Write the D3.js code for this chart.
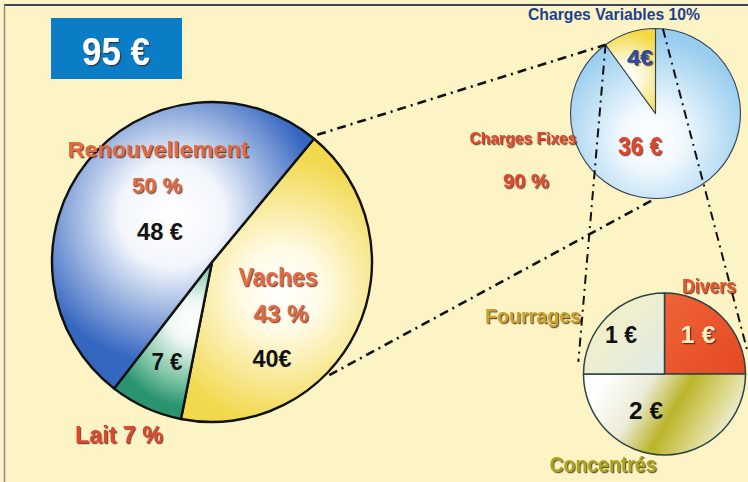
<!DOCTYPE html>
<html><head><meta charset="utf-8">
<script src="https://cdn.jsdelivr.net/npm/d3@7"></script>
<style>html,body{margin:0;padding:0;background:#fcf4c4;}svg{display:block;}</style>
</head><body>
<script>
// ---- data ----
const totalLabel = "95 €";
const mainCategories = ["Vaches", "Lait", "Renouvellement"];
const mainValues = [40, 7, 48];
const mainPercents = ["43 %", "7 %", "50 %"];
const mainValueLabels = ["40€", "7 €", "48 €"];
const chargeCategories = ["Charges Fixes", "Charges Variables"];
const chargeValues = [36, 4];
const chargePercents = ["90 %", "10%"];
const chargeValueLabels = ["36 €", "4€"];
const varCategories = ["Divers", "Concentrés", "Fourrages"];
const varValues = [1, 2, 1];
const varValueLabels = ["1 €", "2 €", "1 €"];

const W = 748, H = 482;
const svg = d3.select("body").append("svg").attr("width", W).attr("height", H);
const defs = svg.append("defs");
const FONT = "'Liberation Sans', Arial, sans-serif";

svg.append("rect").attr("width", W).attr("height", H).attr("fill", "#fcf4c4");
svg.append("line").attr("x1", 4).attr("x2", W).attr("y1", 5).attr("y2", 5).attr("stroke", "#3e4662").attr("stroke-width", 2);
svg.append("line").attr("x1", 4.5).attr("x2", 4.5).attr("y1", 5).attr("y2", H).attr("stroke", "#8a8a8a").attr("stroke-width", 1.5);

// shadow filter
const f = defs.append("filter").attr("id", "sh").attr("x", "-20%").attr("y", "-20%").attr("width", "140%").attr("height", "140%");
f.append("feDropShadow").attr("dx", 1.2).attr("dy", 1.2).attr("stdDeviation", 0.6)
  .attr("flood-color", "#3a1a08").attr("flood-opacity", 0.75);

// geometry
const main = {cx: 212, cy: 262, r: 160};
const chg = {cx: 655.5, cy: 113.5, r: 85};
const vr = {cx: 664.5, cy: 374, r: 81};
const polar = (c, deg, r) => [c.cx + r * Math.sin(deg * Math.PI / 180), c.cy - r * Math.cos(deg * Math.PI / 180)];

// gradients (page coordinates converted to each pie's local coordinates)
function radial(id, c, cx, cy, r, stops) {
  const g = defs.append("radialGradient").attr("id", id).attr("gradientUnits", "userSpaceOnUse")
    .attr("cx", cx - c.cx).attr("cy", cy - c.cy).attr("r", r);
  stops.forEach(s => g.append("stop").attr("offset", s[0]).attr("stop-color", s[1]));
}
function linear(id, c, x1, y1, x2, y2, stops) {
  const g = defs.append("linearGradient").attr("id", id).attr("gradientUnits", "userSpaceOnUse")
    .attr("x1", x1 - c.cx).attr("y1", y1 - c.cy).attr("x2", x2 - c.cx).attr("y2", y2 - c.cy);
  stops.forEach(s => g.append("stop").attr("offset", s[0]).attr("stop-color", s[1]));
}

radial("gVaches", main, 282, 290, 135, [[0, "#ffffff"], [0.3, "#fffbe6"], [1, "#f2d84c"]]);
radial("gLait", main, 192, 322, 85, [[0, "#ffffff"], [0.25, "#f0f8f4"], [0.7, "#7cc4a4"], [1, "#2a9470"]]);
radial("gRenouv", main, 172, 215, 150, [[0, "#ffffff"], [0.35, "#f2f6fc"], [1, "#3566c0"]]);
radial("gFixes", chg, 652, 138, 100, [[0, "#ffffff"], [0.3, "#f2f9fd"], [1, "#98cdee"]]);
radial("gVar", chg, 625, 78, 48, [[0, "#ffffff"], [0.35, "#fdf8dc"], [1, "#f3d83e"]]);
linear("gDivers", vr, 665, 300, 745, 370, [[0, "#ee6236"], [1, "#e54a25"]]);
linear("gConc", vr, 600, 385, 720, 455, [[0, "#ffffff"], [0.3, "#ececd8"], [0.55, "#bbb42a"], [0.75, "#d6d276"], [1, "#f2f2e2"]]);
linear("gFour", vr, 590, 300, 665, 374, [[0, "#f7f1c0"], [1, "#dfeae6"]]);

const mainFills = ["url(#gVaches)", "url(#gLait)", "url(#gRenouv)"];
const chargeFills = ["url(#gFixes)", "url(#gVar)"];
const varFills = ["url(#gDivers)", "url(#gConc)", "url(#gFour)"];

function drawPie(c, values, fills, start, stroke, sw) {
  const pie = d3.pie().sort(null).startAngle(start).endAngle(start + 2 * Math.PI);
  const arc = d3.arc().innerRadius(0).outerRadius(c.r);
  const g = svg.append("g").attr("transform", `translate(${c.cx},${c.cy})`);
  g.selectAll("path").data(pie(values)).join("path")
    .attr("d", arc).attr("fill", (d, i) => fills[i])
    .attr("stroke", stroke).attr("stroke-width", sw).attr("stroke-linejoin", "round");
  return g;
}

drawPie(main, mainValues, mainFills, 39.6 * Math.PI / 180, "#111", 2.4);
drawPie(chg, chargeValues, chargeFills, 0, "#34405a", 1.1);
drawPie(vr, varValues, varFills, 0, "#2c4444", 1.5);

// dash-dot connectors
const conns = [
  [polar(main, 39.6, 165), polar(chg, 324, 85), 2.6],
  [polar(main, 134, 163), polar(chg, 180, 85), 2.6],
  [polar(chg, 324, 85), polar(vr, -82, 87), 2],
  [polar(chg, 5, 85), polar(vr, 74, 86), 2]
];
svg.selectAll("line.conn").data(conns).join("line").attr("class", "conn")
  .attr("x1", d => d[0][0]).attr("y1", d => d[0][1])
  .attr("x2", d => d[1][0]).attr("y2", d => d[1][1])
  .attr("stroke", "#111").attr("stroke-width", d => d[2])
  .attr("stroke-dasharray", "9,5,2,5");

// title box
svg.append("rect").attr("x", 51).attr("y", 18).attr("width", 131).attr("height", 61).attr("fill", "#0a7dc6");

function label(text, x, y, size, width, color, shadow) {
  const t = svg.append("text").attr("x", x).attr("y", y).attr("text-anchor", "middle")
    .attr("font-family", FONT).attr("font-weight", "bold").attr("font-size", size)
    .attr("fill", color).text(text);
  if (width) t.attr("textLength", width).attr("lengthAdjust", "spacingAndGlyphs");
  if (shadow) t.attr("filter", "url(#sh)");
  return t;
}

const ORANGE = "#e8683c", RED = "#e2452c";
label(totalLabel, 116, 65, 38, 68, "#ffffff", true);

// main pie labels
label(mainCategories[2], 158, 157, 22, 181, ORANGE, true);
label(mainPercents[2], 157, 193, 22, 50, ORANGE, true);
label(mainValueLabels[2], 160, 240, 24, 46, "#111", false);
label(mainCategories[0], 278, 286, 25, 79, ORANGE, true);
label(mainPercents[0], 281, 322, 24, 55, ORANGE, true);
label(mainValueLabels[0], 272, 367, 24, 39, "#111", false);
label(mainValueLabels[1], 167, 370, 24, 31, "#111", false);
label(mainCategories[1] + " " + mainPercents[1], 119, 443, 24, 88, RED, true);

// charges pie labels
label(chargeCategories[1] + " " + chargePercents[1], 614, 20, 17, 172, "#1f3e92", false);
label(chargeValueLabels[1], 640, 65, 22, 26, "#2a48a2", true);
label(chargeValueLabels[0], 640, 155, 26, 44, RED, true);
label(chargeCategories[0], 523, 144, 17, 107, RED, true);
label(chargePercents[0], 526, 188, 20, 46, RED, true);

// variable charges pie labels
label(varCategories[2], 533, 323, 21, 96, "#c9a22c", true);
label(varCategories[0], 709, 293, 20, 54, "#e8532a", true);
label(varValueLabels[2], 621, 343, 23, 32, "#111", false);
label(varValueLabels[0], 698, 343, 23, 35, "#f8eec4", true);
label(varValueLabels[1], 646, 419, 24, 34, "#111", false);
label(varCategories[1], 603, 472, 22, 107, "#a9a61c", true);
</script>
</body></html>
